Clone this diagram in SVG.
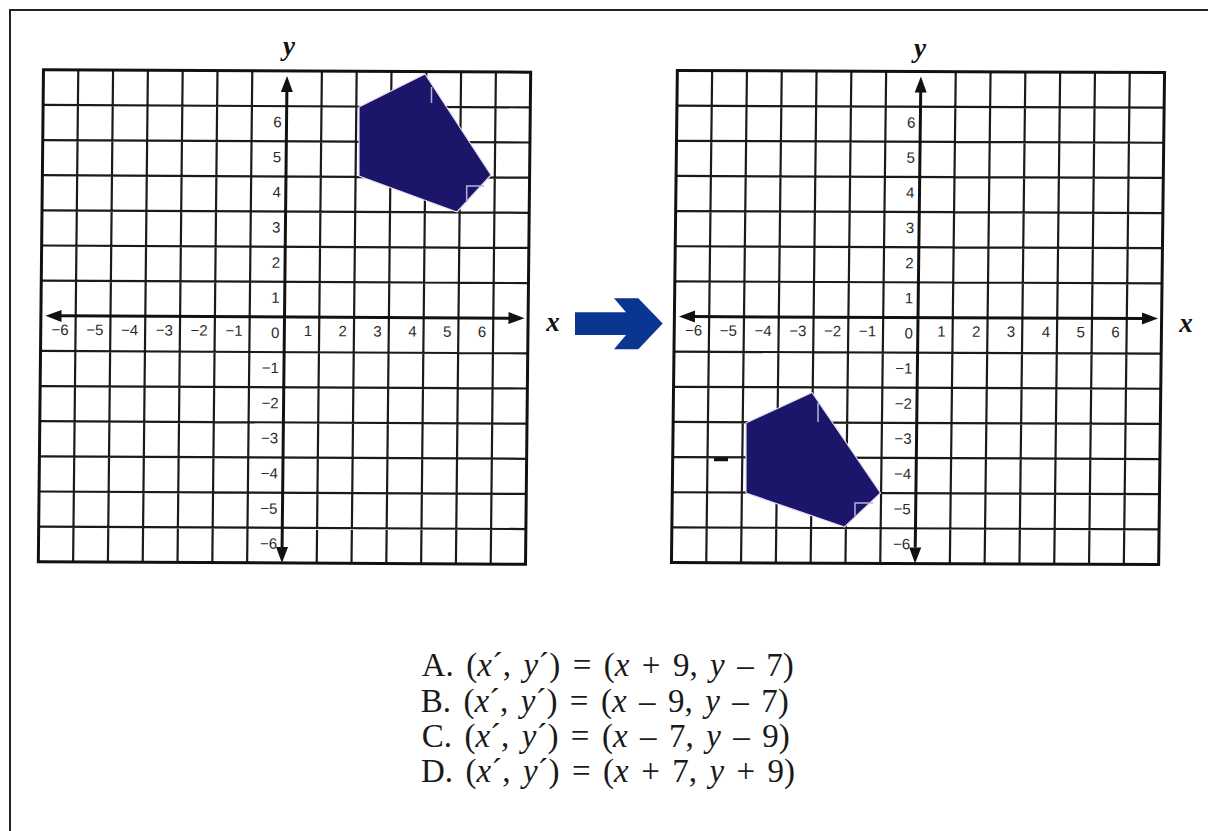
<svg xmlns="http://www.w3.org/2000/svg" width="1208" height="831" viewBox="0 0 1208 831">
<style>
.gl{fill:none;stroke:#1a1a1a;stroke-width:2.2}
.gb{fill:none;stroke:#111;stroke-width:3}
.ax{fill:none;stroke:#111;stroke-width:3}
.ah{fill:#111}
.tk{font-family:"Liberation Sans",Arial,sans-serif;font-size:15px;fill:#2a2a2a;text-anchor:end}
.al{font-family:"Liberation Serif","Times New Roman",serif;font-size:27px;font-weight:bold;font-style:italic;fill:#111;text-anchor:middle}
.opt{font-family:"Liberation Serif","Times New Roman",serif;font-size:33px;fill:#1a1a1a;word-spacing:4.2px}
.it{font-style:italic}
.shape{fill:#1b1669;stroke:#e6dcf5;stroke-width:1.2;stroke-linejoin:round}
.art{fill:none;stroke:#b4b4d6;stroke-width:1.5}
</style>
<defs>
<g id="plane">
<path class="gl" d="M-208.8 -246V246M-174 -246V246M-139.2 -246V246M-104.4 -246V246M-69.6 -246V246M-34.8 -246V246M34.8 -246V246M69.6 -246V246M104.4 -246V246M139.2 -246V246M174 -246V246M208.8 -246V246M-243.6 -210.84H243.6M-243.6 -175.7H243.6M-243.6 -140.56H243.6M-243.6 -105.42H243.6M-243.6 -70.28H243.6M-243.6 -35.14H243.6M-243.6 35.14H243.6M-243.6 70.28H243.6M-243.6 105.42H243.6M-243.6 140.56H243.6M-243.6 175.7H243.6M-243.6 210.84H243.6"/>
<rect class="gb" x="-243.6" y="-246" width="487.2" height="492"/>
<path class="ax" d="M0 -228V230M-226 0H225"/>
<path class="ah" d="M0 -241L-6 -225L6 -225ZM0 246L-6 230L6 230ZM-239 0L-223 -6L-223 6ZM240 0L224 -6L224 6Z"/>
<g class="tk">
<text x="-215.8" y="19">−6</text><text x="-181" y="19">−5</text><text x="-146.2" y="19">−4</text><text x="-111.4" y="19">−3</text><text x="-76.6" y="19">−2</text><text x="-41.8" y="19">−1</text>
<text x="27.8" y="19">1</text><text x="62.6" y="19">2</text><text x="97.4" y="19">3</text><text x="132.2" y="19">4</text><text x="167" y="19">5</text><text x="201.8" y="19">6</text>
<text x="-5" y="-189.8">6</text><text x="-5" y="-154.7">5</text><text x="-5" y="-119.6">4</text><text x="-5" y="-84.4">3</text><text x="-5" y="-49.3">2</text><text x="-5" y="-14.1">1</text>
<text x="-5" y="21">0</text>
<text x="-5" y="56.1">−1</text><text x="-5" y="91.3">−2</text><text x="-5" y="126.4">−3</text><text x="-5" y="161.6">−4</text><text x="-5" y="196.7">−5</text><text x="-5" y="231.8">−6</text>
</g>
</g>
</defs>
<path d="M10 831V10H1208" fill="none" stroke="#222" stroke-width="2"/>
<g id="left-plane">
<use href="#plane" transform="translate(284.5 317) matrix(1 0.005 -0.0105 1 0 0)"/>
<polygon class="shape" points="425,74 359,107 359,176 457,212 491,175"/>
<path class="art" d="M431.5 87V103M466.7 202V186H484"/>
<text class="al" x="289" y="55">y</text>
<text class="al" x="553" y="331">x</text>
</g>
<g id="right-plane">
<use href="#plane" transform="translate(918 317.5) matrix(1 0.004 -0.012 1 0 0)"/>
<polygon class="shape" points="812,392.5 746,423 746,493 844.5,527 880.5,493"/>
<path class="art" d="M818 403V422M855 517V503H873"/>
<path d="M714 459.5H728" stroke="#111" stroke-width="3.5"/>
<text class="al" x="920" y="57">y</text>
<text class="al" x="1186" y="332">x</text>
</g>
<g id="connectors">
<polygon id="arrow" fill="#0a3590" points="575,312.3 626,312.3 614,298.3 638.3,298.3 662.7,323.5 638.3,349.3 614,349.3 626,335 575,335"/>
</g>
<g id="options" class="opt">
<text x="421.7" y="676">A. (<tspan class="it">x</tspan>´, <tspan class="it">y</tspan>´) = (<tspan class="it">x</tspan> + 9, <tspan class="it">y</tspan> – 7)</text>
<text x="420.7" y="711.5">B. (<tspan class="it">x</tspan>´, <tspan class="it">y</tspan>´) = (<tspan class="it">x</tspan> – 9, <tspan class="it">y</tspan> – 7)</text>
<text x="421.7" y="747">C. (<tspan class="it">x</tspan>´, <tspan class="it">y</tspan>´) = (<tspan class="it">x</tspan> – 7, <tspan class="it">y</tspan> – 9)</text>
<text x="421" y="782">D. (<tspan class="it">x</tspan>´, <tspan class="it">y</tspan>´) = (<tspan class="it">x</tspan> + 7, <tspan class="it">y</tspan> + 9)</text>
</g>
</svg>
